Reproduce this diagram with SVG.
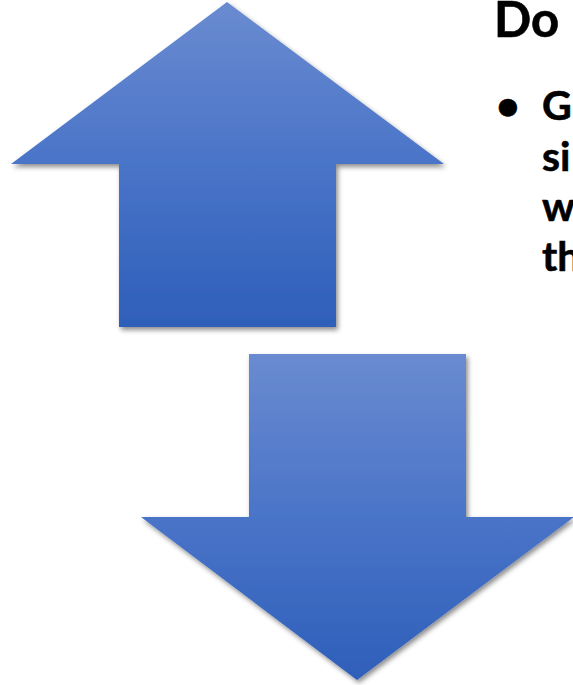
<svg xmlns="http://www.w3.org/2000/svg" width="573" height="685" viewBox="0 0 573 685">
  <defs>
    <linearGradient id="blue" x1="0" y1="0" x2="0" y2="1">
      <stop offset="0" stop-color="#6a8bd0"/>
      <stop offset="0.5" stop-color="#4a74c8"/>
      <stop offset="1" stop-color="#2e5fb9"/>
    </linearGradient>
    <filter id="shadow" x="-10%" y="-10%" width="120%" height="120%">
      <feDropShadow dx="2" dy="3" stdDeviation="2.5" flood-color="#000" flood-opacity="0.45"/>
    </filter>
  </defs>
  <style>
    .arrow { fill: url(#blue); filter: url(#shadow); }
    .t { font-family: Lato, "Open Sans", sans-serif; font-weight: 700; fill: #000; stroke: #000; stroke-width: 0.6; }
    .b { font-size: 41px; }
  </style>
  <rect width="573" height="685" fill="#fff"/>
  <g id="up-arrow">
    <polygon class="arrow" points="227,2 444,164 336,164 336,327 119,327 119,164 11,164"/>
  </g>
  <g id="down-arrow">
    <polygon class="arrow" points="249,354 466,354 466,517 574,517 357,680 141,517 249,517"/>
  </g>
  <g id="connectors"></g>
  <g id="text">
    <text class="t" x="494" y="37" font-size="49">Do</text>
    <text class="t b" x="496" y="120">•</text>
    <text class="t b" x="542" y="120">G</text>
    <text class="t b" x="542" y="171">si</text>
    <text class="t b" x="542" y="221">w</text>
    <text class="t b" x="542" y="271">th</text>
  </g>
</svg>
